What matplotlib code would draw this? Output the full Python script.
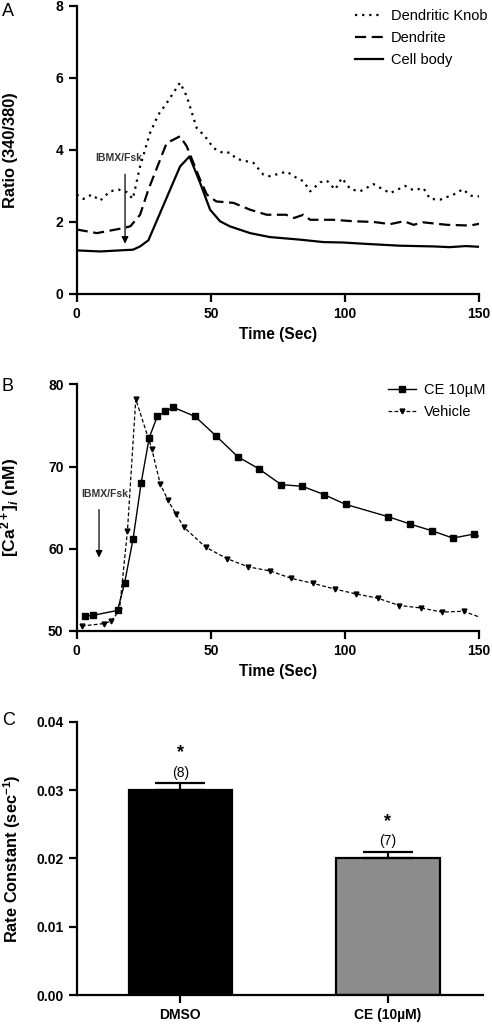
import matplotlib
matplotlib.use("Agg")
import matplotlib.pyplot as plt

plt.rcParams['font.family'] = ['Liberation Sans', 'DejaVu Sans']
plt.rcParams['mathtext.fontset'] = 'custom'
plt.rcParams['mathtext.rm'] = 'Liberation Sans:bold'
plt.rcParams['mathtext.bf'] = 'Liberation Sans:bold'
plt.rcParams['mathtext.it'] = 'Liberation Sans:italic:bold'

# Panel A: Fura-2 ratio traces
t_body = [0, 8.7, 21, 23.6, 26.7, 38.5, 42, 46, 49.7, 53.4, 57, 64.6, 72, 83, 92, 99,
          108, 120.5, 133, 139, 145, 150]
body = [1.21, 1.18, 1.23, 1.32, 1.49, 3.54, 3.82, 3.08, 2.34, 2.02, 1.88, 1.69, 1.58,
        1.51, 1.44, 1.43, 1.39, 1.34, 1.32, 1.30, 1.33, 1.31]

t_dend = [0, 7.5, 17.4, 20, 23.6, 26.7, 33.5, 38.5, 41, 46, 48.5, 52, 58.4, 64.6, 70.8,
          78, 81, 84.5, 87, 95.7, 103, 110.6, 116.8, 122, 125.5, 129, 138, 146.7, 150]
dend = [1.79, 1.69, 1.83, 1.88, 2.2, 2.9, 4.19, 4.38, 4.1, 3.17, 2.76, 2.57, 2.53, 2.34,
        2.2, 2.2, 2.11, 2.2, 2.06, 2.06, 2.02, 2.0, 1.94, 2.02, 1.92, 1.99, 1.92, 1.9, 1.95]

t_knob = [0, 2.5, 5.6, 8.7, 12.4, 15.5, 18.6, 20.9, 23.6, 27.3, 30.4, 33.5, 38.5, 41,
          44.7, 47.8, 51, 54.7, 57, 59.6, 65.9, 69.6, 72, 78.3, 80.8, 84.5, 87, 90.7,
          93.2, 96.3, 98.8, 102, 105.6, 110.6, 116.8, 122.4, 125.5, 129.2, 131.7, 135.5,
          140.4, 144, 146.6, 150]
knob = [2.76, 2.64, 2.76, 2.59, 2.85, 2.9, 2.83, 2.64, 3.54, 4.47, 4.98, 5.3, 5.87, 5.49,
        4.61, 4.38, 4.05, 3.91, 3.93, 3.75, 3.64, 3.31, 3.27, 3.4, 3.27, 3.13, 2.85, 3.1,
        3.15, 2.9, 3.22, 2.91, 2.85, 3.05, 2.8, 3.0, 2.88, 2.94, 2.64, 2.62, 2.76, 2.91,
        2.73, 2.71]

# Panel B: [Ca2+]i traces (last point of each is the line end, no marker)
t_ce = [2.9, 6, 15.2, 17.8, 21, 24, 27, 30, 33, 36, 44.1, 52, 60, 68, 76.2, 84.1, 92.1,
        100.2, 116.1, 124.3, 132.3, 140.2, 148.2, 150]
ce = [51.8, 51.9, 52.5, 55.8, 61.2, 68.0, 73.5, 76.1, 76.7, 77.2, 76.1, 73.7, 71.2, 69.7,
      67.8, 67.6, 66.6, 65.4, 63.9, 63.0, 62.2, 61.3, 61.8, 61.5]
t_veh = [1.9, 10, 12.8, 15.9, 18.9, 22, 28, 31.1, 34, 37, 40, 48, 56, 63.9, 72.1, 80, 88,
         96.2, 104.2, 112.1, 120.2, 128.3, 136.2, 144.2, 150]
veh = [50.6, 50.9, 51.2, 52.5, 62.2, 78.2, 72.1, 67.9, 65.9, 64.2, 62.6, 60.2, 58.8, 57.8,
       57.3, 56.4, 55.8, 55.1, 54.5, 54.0, 53.1, 52.8, 52.3, 52.4, 51.7]

# Panel C: rate constants
groups = ['DMSO', 'CE (10µM)']
rate = [0.030, 0.020]
rate_err = [0.001, 0.001]
n_cells = ['(8)', '(7)']
bar_colors = ['black', '#8c8c8c']

fig = plt.figure(figsize=(4.92, 10.26), dpi=100)
axA = fig.add_axes([0.156, 0.7135, 0.818, 0.2807])
axB = fig.add_axes([0.156, 0.385, 0.818, 0.2404])
axC = fig.add_axes([0.156, 0.0302, 0.826, 0.2664])


def style(ax):
    for s in ['top', 'right']:
        ax.spines[s].set_visible(False)
    for s in ['left', 'bottom']:
        ax.spines[s].set_linewidth(1.6)
    ax.tick_params(width=1.6, length=6, labelsize=10)
    for lab in ax.get_xticklabels() + ax.get_yticklabels():
        lab.set_fontweight('bold')


# A
axA.plot(t_knob, knob, color='black', lw=1.6, ls=(0, (1, 2.2)), label='Dendritic Knob')
axA.plot(t_dend, dend, color='black', lw=1.6, ls=(0, (5, 2.5)), label='Dendrite')
axA.plot(t_body, body, color='black', lw=1.6, ls='-', label='Cell body')
axA.set_xlim(0, 150)
axA.set_ylim(0, 8)
axA.set_xticks([0, 50, 100, 150])
axA.set_yticks([0, 2, 4, 6, 8])
axA.set_xlabel('Time (Sec)', fontsize=11.2, fontweight='bold')
axA.set_ylabel('Ratio (340/380)', fontsize=11.8, fontweight='bold')
axA.yaxis.set_label_coords(-0.145, 0.5)
axA.annotate('', xy=(18, 1.32), xytext=(18, 3.4),
             arrowprops=dict(arrowstyle='-|>', color='black', lw=0.9, mutation_scale=10))
axA.text(15.8, 3.77, 'IBMX/Fsk', fontsize=7.5, fontweight='bold', color='#333333',
         ha='center', va='center')
axA.legend(loc='upper right', frameon=False, fontsize=10.5, handlelength=1.9,
           handletextpad=0.55, borderaxespad=0, labelspacing=0.55,
           bbox_to_anchor=(1.035, 1.01))
style(axA)

# B
axB.plot(t_ce, ce, color='black', lw=1.0, ls='-', marker='s', ms=4,
         markevery=list(range(len(t_ce) - 1)), label='CE 10µM')
axB.plot(t_veh, veh, color='black', lw=0.9, ls=(0, (3, 1.8)), marker='v', ms=3.5,
         markevery=list(range(len(t_veh) - 1)), label='Vehicle')
axB.set_xlim(0, 150)
axB.set_ylim(50, 80)
axB.set_xticks([0, 50, 100, 150])
axB.set_yticks([50, 60, 70, 80])
axB.set_xlabel('Time (Sec)', fontsize=11.2, fontweight='bold')
axB.set_ylabel(r'[Ca$^{2+}$]$_{\mathit{i}}$ (nM)', fontsize=12.5, fontweight='bold')
axB.yaxis.set_label_coords(-0.138, 0.5)
axB.annotate('', xy=(8.3, 58.6), xytext=(8.3, 65.1),
             arrowprops=dict(arrowstyle='-|>', color='black', lw=0.9, mutation_scale=10))
axB.text(10.6, 66.7, 'IBMX/Fsk', fontsize=7.5, fontweight='bold', color='#333333',
         ha='center', va='center')
axB.legend(loc='upper right', frameon=False, fontsize=10.5, handlelength=1.9,
           handletextpad=0.55, borderaxespad=0, labelspacing=0.55,
           bbox_to_anchor=(1.03, 1.03))
style(axB)

# C
xpos = list(range(len(groups)))
axC.bar(xpos, rate, width=0.5, color=bar_colors, edgecolor='black', linewidth=1.6)
axC.errorbar(xpos, rate, yerr=[[0] * len(rate_err), rate_err], fmt='none', ecolor='black',
             elinewidth=1.6, capsize=18, capthick=1.6)
for x, v, e, n in zip(xpos, rate, rate_err, n_cells):
    axC.text(x, v + e + 0.0005, n, ha='center', va='bottom', fontsize=10)
    axC.text(x, v + e + 0.0032, '*', ha='center', va='bottom', fontsize=13, fontweight='bold')
axC.set_xlim(-0.5, 1.46)
axC.set_ylim(0, 0.04)
axC.set_xticks(xpos)
axC.set_xticklabels(groups)
axC.set_yticks([0, 0.01, 0.02, 0.03, 0.04])
axC.set_yticklabels(['0.00', '0.01', '0.02', '0.03', '0.04'])
axC.set_ylabel(r'Rate Constant (sec$^{-1}$)', fontsize=11.8, fontweight='bold')
axC.yaxis.set_label_coords(-0.132, 0.5)
style(axC)

fig.text(0.004, 0.997, 'A', fontsize=13, va='top', ha='left')
fig.text(0.004, 0.632, 'B', fontsize=13, va='top', ha='left')
fig.text(0.004, 0.306, 'C', fontsize=13, va='top', ha='left')

fig.savefig('out.png', dpi=100)
